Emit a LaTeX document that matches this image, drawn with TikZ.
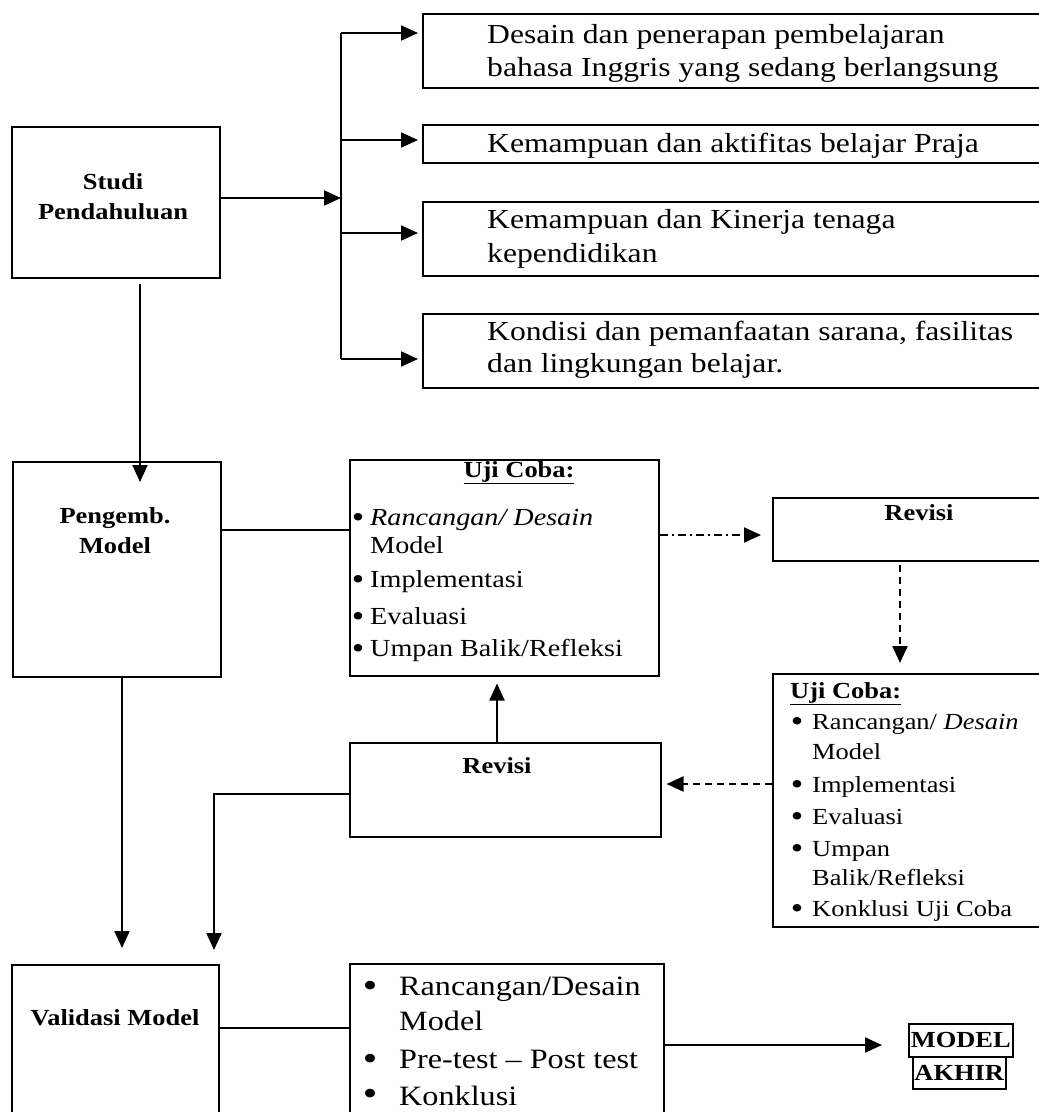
\documentclass[tikz,border=0pt]{standalone}
\usepackage{fontspec}
\setmainfont{Liberation Serif}[FakeStretch=1.15]
\usetikzlibrary{arrows.meta}
\newcommand\fR{\fontsize{27.5}{33}\selectfont}
\newcommand\fU{\fontsize{23}{28}\selectfont}
\newcommand\fUa{\fontsize{24.5}{29}\selectfont}
\newcommand\fB{\fontsize{28}{34}\selectfont}
\newcommand\fL{\fontsize{23}{28}\selectfont\bfseries}
\newcommand\bulA{{\fontsize{31}{31}\selectfont •}}
\newcommand\bulB{{\fontsize{36}{36}\selectfont •}}
\begin{document}
\begin{tikzpicture}[x=1pt,y=-1pt,
  box/.style={draw, line width=1.5pt, inner sep=0pt, anchor=north west},
  conn/.style={line width=2pt},
  arr/.style={conn, -{Triangle[length=17pt,width=15pt]}},
  dashdotpat/.style={dash pattern=on 8pt off 4pt on 2pt off 4pt},
  dashpat/.style={dash pattern=on 7pt off 5pt},
  lbl/.style={inner sep=0pt, anchor=base},
  txt/.style={inner sep=0pt, anchor=base west},
  bul/.style={inner sep=0pt, anchor=base},
]
\useasboundingbox (0,0) rectangle (1039,1112);

% ---------- boxes ----------
\node[box, minimum width=208pt, minimum height=151pt] (studi) at (11,126) {};
\node[box, minimum width=625pt, minimum height=74pt] (r1) at (422,13) {};
\node[box, minimum width=625pt, minimum height=38pt] (r2) at (422,124) {};
\node[box, minimum width=625pt, minimum height=74pt] (r3) at (422,201) {};
\node[box, minimum width=625pt, minimum height=74pt] (r4) at (422,313) {};
\node[box, minimum width=208pt, minimum height=215pt] (pengemb) at (12,461) {};
\node[box, minimum width=309pt, minimum height=216pt] (uji1) at (349,459) {};
\node[box, minimum width=275pt, minimum height=63pt] (revisi1) at (772,497) {};
\node[box, minimum width=275pt, minimum height=253pt] (uji2) at (772,673) {};
\node[box, minimum width=311pt, minimum height=94pt] (revisi2) at (349,742) {};
\node[box, minimum width=207pt, minimum height=170pt] (valid) at (11,964) {};
\node[box, minimum width=314pt, minimum height=170pt] (bot) at (349,963) {};
\node[box, font=\fL, minimum width=104pt, minimum height=33pt] (model) at (908,1023) {MODEL};
\node[box, font=\fL, minimum width=93pt, minimum height=32pt] (akhir) at (912,1056) {AKHIR};

% ---------- texts ----------
\node[lbl, font=\fL] (studiA) at (113,189) {Studi};
\node[lbl, font=\fL] (studiB) at (113,219) {Pendahuluan};

\node[txt, font=\fR] (r1a) at (487,43) {Desain dan penerapan pembelajaran};
\node[txt, font=\fR] (r1b) at (487,76) {bahasa Inggris yang sedang berlangsung};
\node[txt, font=\fR] (r2a) at (487,152) {Kemampuan dan aktifitas belajar Praja};
\node[txt, font=\fR] (r3a) at (487,228) {Kemampuan dan Kinerja tenaga};
\node[txt, font=\fR] (r3b) at (487,262) {kependidikan};
\node[txt, font=\fR] (r4a) at (487,340) {Kondisi dan pemanfaatan sarana, fasilitas};
\node[txt, font=\fR] (r4b) at (487,372) {dan lingkungan belajar.};

\node[lbl, font=\fL] (pgA) at (115,523) {Pengemb.};
\node[lbl, font=\fL] (pgB) at (115,553) {Model};

\node[lbl, font=\fL] (u1h) at (519,477) {\underline{Uji Coba:}};
\node[bul] (u1d1) at (358,527) {\bulA};
\node[txt, font=\fUa] (u1t1) at (370,525) {\textit{Rancangan/ Desain}};
\node[txt, font=\fUa] (u1t1b) at (370,553) {Model};
\node[bul] (u1d2) at (358,589) {\bulA};
\node[txt, font=\fUa] (u1t2) at (370,587) {Implementasi};
\node[bul] (u1d3) at (358,626) {\bulA};
\node[txt, font=\fUa] (u1t3) at (370,624) {Evaluasi};
\node[bul] (u1d4) at (358,658) {\bulA};
\node[txt, font=\fUa] (u1t4) at (370,656) {Umpan Balik/Refleksi};

\node[lbl, font=\fL] (rv1) at (919,520) {Revisi};

\node[txt, font=\fL] (u2h) at (790,698) {\underline{Uji Coba:}};
\node[bul] (u2d1) at (797,731) {\bulA};
\node[txt, font=\fU] (u2t1) at (812,729) {Rancangan/ \textit{Desain}};
\node[txt, font=\fU] (u2t1b) at (812,759) {Model};
\node[bul] (u2d2) at (797,794) {\bulA};
\node[txt, font=\fU] (u2t2) at (812,792) {Implementasi};
\node[bul] (u2d3) at (797,826) {\bulA};
\node[txt, font=\fU] (u2t3) at (812,824) {Evaluasi};
\node[bul] (u2d4) at (797,858) {\bulA};
\node[txt, font=\fU] (u2t4) at (812,856) {Umpan};
\node[txt, font=\fU] (u2t4b) at (812,885) {Balik/Refleksi};
\node[bul] (u2d5) at (797,918) {\bulA};
\node[txt, font=\fU] (u2t5) at (812,916) {Konklusi Uji Coba};

\node[lbl, font=\fL] (rv2) at (497,773) {Revisi};

\node[lbl, font=\fL] (vm) at (115,1025) {Validasi Model};

\node[bul] (bd1) at (370,997) {\bulB};
\node[txt, font=\fB] (bt1) at (399,995) {Rancangan/Desain};
\node[txt, font=\fB] (bt1b) at (399,1030) {Model};
\node[bul] (bd2) at (370,1070) {\bulB};
\node[txt, font=\fB] (bt2) at (399,1068) {Pre-test – Post test};
\node[bul] (bd3) at (370,1105) {\bulB};
\node[txt, font=\fB] (bt3) at (399,1105) {Konklusi};

% ---------- connectors ----------
\coordinate (b1) at (341,33);
\coordinate (b2) at (341,140);
\coordinate (b3) at (341,233);
\coordinate (b4) at (341,359);
\coordinate (bj) at (341,198);
\draw[conn, line width=2.4pt] (b1) -- (b4);
\draw[arr] (studi.east |- bj) -- (bj);
\foreach \b/\r in {b1/r1,b2/r2,b3/r3,b4/r4}
  \draw[arr, shorten >=4pt] (\b) -- (\r.west |- \b);

\coordinate (xs) at (140,0);
\draw[arr, shorten <=5pt, shorten >=-21pt] (studi.south -| xs) -- (pengemb.north -| xs);

\coordinate (yp) at (0,530);
\draw[conn] (pengemb.east |- yp) -- (uji1.west |- yp);

\coordinate (yd) at (0,535);
\draw[arr, dashdotpat, shorten >=11pt] (uji1.east |- yd) -- (revisi1.west |- yd);

\coordinate (xv) at (900,0);
\draw[arr, dashpat, shorten <=3pt, shorten >=10pt] (revisi1.south -| xv) -- (uji2.north -| xv);

\coordinate (yh) at (0,784);
\draw[arr, dashpat, shorten >=5pt] (uji2.west |- yh) -- (revisi2.east |- yh);

\coordinate (xu) at (497,0);
\draw[arr, shorten >=7pt] (revisi2.north -| xu) -- (uji1.south -| xu);

\coordinate (xe) at (214,0);
\coordinate (ye) at (0,794);
\draw[arr, shorten >=14pt] (revisi2.west |- ye) -| (valid.north -| xe);

\coordinate (xa) at (122,0);
\draw[arr, shorten >=16pt] (pengemb.south -| xa) -- (valid.north -| xa);

\coordinate (yv) at (0,1028);
\draw[conn] (valid.east |- yv) -- (bot.west |- yv);

\coordinate (ym) at (0,1045);
\draw[arr, shorten >=26pt] (bot.east |- ym) -- (model.west |- ym);
\end{tikzpicture}
\end{document}
